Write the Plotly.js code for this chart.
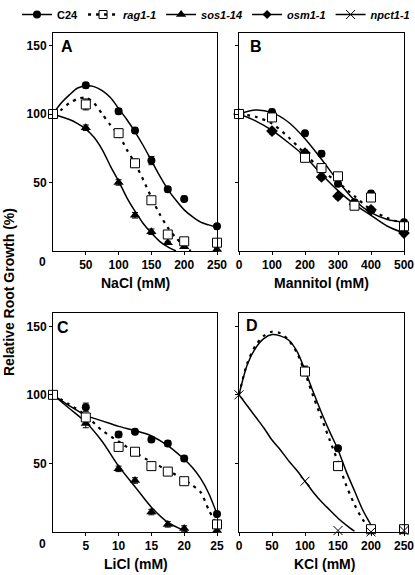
<!DOCTYPE html>
<html>
<head>
<meta charset="utf-8">
<script src="https://cdn.plot.ly/plotly-3.0.1.min.js"></script>
<style>html,body{margin:0;padding:0;background:#fff;}#chart{width:415px;height:575px;}</style>
</head>
<body>
<div id="chart"></div>
<script>
// ---------- Panel A: NaCl ----------
const naclX = [0, 50, 100, 125, 150, 175, 200, 250];
const naclC24 = [100, 121, 102, 88, 66, 45, 38, 18];
const naclC24Err = [2, 2, 2, 2, 3, 2, 2, 2];
const naclRag = [100, 107, 86, 64, 37, 12, 7, 6];
const naclRagErr = [2, 4, 3, 3, 2, 2, 1, 1];
const naclSos = [100, 90, 50, 26, 14, 6, 3, 1];
const naclSosErr = [2, 2, 2, 2, 2, 1, 1, 1];
const naclFitX = [0, 12.5, 25, 37.5, 50, 62.5, 75, 87.5, 100, 112.5, 125, 137.5, 150, 162.5, 175, 187.5, 200, 212.5, 225, 237.5, 250];
const naclC24Fit = [100, 108, 114, 119, 120.5, 120, 117, 112, 104, 96, 87, 77, 66, 55, 45, 37, 30, 25, 21, 19, 17];
const naclRagFitX = [0, 12.5, 25, 37.5, 50, 62.5, 75, 87.5, 100, 112.5, 125, 137.5, 150, 162.5, 175, 187.5, 200, 210];
const naclRagFit = [100, 103, 108, 111, 112, 108, 100, 92, 85, 74, 64, 52, 39, 27, 17, 9.5, 3.5, 0];
const naclSosFitX = [0, 12.5, 25, 37.5, 50, 62.5, 75, 87.5, 100, 112.5, 125, 137.5, 150, 162.5, 175, 187.5];
const naclSosFit = [100, 98, 96, 93, 89, 83, 74, 62, 51, 39, 29, 20, 13, 7, 3, 0];

// ---------- Panel B: Mannitol ----------
const mannX = [0, 100, 200, 250, 300, 350, 400, 500];
const mannC24 = [100, 101.5, 86, 71, 49, 35.5, 42, 21];
const mannRag = [100, 97.5, 68, 60.5, 54.5, 33, 39, 18];
const mannOsm = [100, 87.5, 71.5, 54, 40, 34, 30, 13];
const mannErr = [1, 2, 2, 2, 2, 2, 2, 2];
const mannFitX = [0, 50, 100, 150, 200, 250, 300, 350, 400, 450, 500];
const mannC24Fit = [100, 103, 101, 94, 82, 67, 51, 37, 28, 23, 21];
const mannRagFit = [100, 98, 93, 83, 71, 59, 50, 40, 30, 24, 20];
const mannOsmFit = [100, 95, 88, 79, 69, 56, 44, 34, 26, 18, 13];

// ---------- Panel C: LiCl ----------
const liX = [0, 5, 10, 12.5, 15, 17.5, 20, 25];
const liC24 = [100, 91, 71, 73, 67.5, 64.5, 53.5, 13];
const liRag = [100, 83.5, 62, 58.5, 48, 44, 37, 5.5];
const liSos = [100, 79, 46, 37.5, 14.5, 5.5, 2.5, 1];
const liErr = [1, 3, 2, 2, 2, 2, 2, 2];
const liC24FitX = [0, 2.5, 5, 7.5, 10, 12.5, 15, 17.5, 20, 21.25, 22.5, 23.75, 25];
const liC24Fit = [100, 92, 85, 81, 77, 74, 70, 63, 53, 47, 39, 28, 13];
const liRagFitX = [0, 2.5, 5, 7.5, 10, 12.5, 15, 17.5, 20, 21.25, 22.5, 23.75, 25];
const liRagFit = [100, 93, 85, 74, 66, 58, 51, 45, 38, 34, 29, 16, 5];
const liSosFitX = [0, 2.5, 5, 7.5, 10, 12.5, 15, 17.5, 20, 20.5];
const liSosFit = [100, 90, 80, 66, 48, 33, 18, 7, 1, 0];

// ---------- Panel D: KCl ----------
const kclX = [100, 150, 200, 250];
const kclC24 = [118, 61, 2.5, 2.5];
const kclRag = [117, 48, 2, 2];
const kclErr = [3, 2, 1, 1];
const kclNpctX = [0, 100, 150, 200, 250];
const kclNpct = [100, 37, 1, 0, 1];
const kclFitX = [0, 12.5, 25, 37.5, 50, 62.5, 75, 87.5, 100, 112.5, 125, 137.5, 150, 162.5, 175, 187.5, 200, 205];
const kclC24Fit = [100, 122, 134, 141, 144, 143, 140, 132, 118, 102, 87, 73, 60, 44, 30, 16, 5, 0];
const kclRagFit = [100, 123, 136, 143, 146, 145, 140, 131, 116, 99, 83, 67, 51, 34, 20, 9, 2, 0];
const kclNpctFitX = [0, 12.5, 25, 37.5, 50, 62.5, 75, 87.5, 100, 112.5, 125, 137.5, 150, 162.5, 175];
const kclNpctFit = [100, 92, 84, 76, 67, 60, 52, 45, 37, 29, 22, 16, 10, 5, 0.5];

// ---------- Legend / tick labels ----------
const seriesNames = ['C24', '<i>rag1-1</i>', '<i>sos1-14</i>', '<i>osm1-1</i>', '<i>npct1-1</i>'];
const naclTicks = [50, 100, 150, 200, 250];
const mannTicks = [0, 100, 200, 300, 400, 500];
const liTicks = [5, 10, 15, 20, 25];
const kclTicks = [0, 50, 100, 150, 200, 250];
const yTicks = [50, 100, 150];

const FONT = 'Arial, "Liberation Sans", sans-serif';
const solid = {color: '#000', width: 1.5, shape: 'spline', smoothing: 0.8};
const dashed = {color: '#000', width: 2.2, dash: '3px,5px', shape: 'spline', smoothing: 0.8};
const mk = {
  c24: {symbol: 'circle', size: 8, color: '#000'},
  rag: {symbol: 'square-open', size: 9, color: '#000', line: {width: 1}},
  sos: {symbol: 'triangle-up', size: 9, color: '#000'},
  osm: {symbol: 'diamond', size: 9, color: '#000'},
  npct: {symbol: 'x-thin-open', size: 9, color: '#000', line: {width: 1, color: '#000'}}
};
const ragFillMk = {symbol: 'square', size: 9, color: '#fff', line: {width: 1, color: '#000'}};

function fit(x, y, xa, ya, line) {
  return {x: x, y: y, xaxis: xa, yaxis: ya, mode: 'lines', line: line, showlegend: false, hoverinfo: 'skip'};
}
function pts(x, y, err, xa, ya, marker) {
  const t = {x: x, y: y, xaxis: xa, yaxis: ya, mode: 'markers', marker: marker, showlegend: false, cliponaxis: false};
  if (err) t.error_y = {type: 'data', array: err, visible: true, color: '#000', thickness: 1, width: 3};
  return t;
}

const traces = [];
// A
traces.push(fit(naclFitX, naclC24Fit, 'x', 'y', solid));
traces.push(fit(naclRagFitX, naclRagFit, 'x', 'y', dashed));
traces.push(fit(naclSosFitX, naclSosFit, 'x', 'y', solid));
traces.push(pts(naclX, naclC24, naclC24Err, 'x', 'y', mk.c24));
traces.push(pts(naclX, naclSos, naclSosErr, 'x', 'y', mk.sos));
traces.push(pts(naclX, naclRag, naclRagErr, 'x', 'y', ragFillMk));
// B
traces.push(fit(mannFitX, mannC24Fit, 'x2', 'y2', solid));
traces.push(fit(mannFitX, mannRagFit, 'x2', 'y2', dashed));
traces.push(fit(mannFitX, mannOsmFit, 'x2', 'y2', solid));
traces.push(pts(mannX, mannOsm, mannErr, 'x2', 'y2', mk.osm));
traces.push(pts(mannX, mannC24, mannErr, 'x2', 'y2', mk.c24));
traces.push(pts(mannX, mannRag, mannErr, 'x2', 'y2', ragFillMk));
// C
traces.push(fit(liC24FitX, liC24Fit, 'x3', 'y3', solid));
traces.push(fit(liRagFitX, liRagFit, 'x3', 'y3', dashed));
traces.push(fit(liSosFitX, liSosFit, 'x3', 'y3', solid));
traces.push(pts(liX, liC24, liErr, 'x3', 'y3', mk.c24));
traces.push(pts(liX, liSos, liErr, 'x3', 'y3', mk.sos));
traces.push(pts(liX, liRag, liErr, 'x3', 'y3', ragFillMk));
// D
traces.push(fit(kclFitX, kclC24Fit, 'x4', 'y4', solid));
traces.push(fit(kclFitX, kclRagFit, 'x4', 'y4', dashed));
traces.push(fit(kclNpctFitX, kclNpctFit, 'x4', 'y4', solid));
traces.push(pts(kclX, kclC24, kclErr, 'x4', 'y4', mk.c24));
traces.push(pts(kclX, kclRag, kclErr, 'x4', 'y4', ragFillMk));
traces.push(pts(kclNpctX, kclNpct, null, 'x4', 'y4', mk.npct));

// legend entries
const legLines = [
  {color: '#000', width: 1.5},
  {color: '#000', width: 2.5, dash: '3px,5px'},
  {color: '#000', width: 1.5},
  {color: '#000', width: 1.5},
  {color: '#000', width: 1.5}
];
const legMarkers = [mk.c24, {symbol: 'square-open', size: 8, color: '#000', line: {width: 1}}, mk.sos, {symbol: 'diamond', size: 7, color: '#000'}, mk.npct];
seriesNames.forEach(function (n, i) {
  traces.push({x: [null], y: [null], xaxis: 'x', yaxis: 'y', mode: 'lines+markers', name: n,
    line: legLines[i], marker: legMarkers[i], showlegend: true});
});

const W = 415, H = 575;
function px(v) { return v / W; }
function py(v) { return 1 - v / H; }
const tickFont = {family: FONT, size: 12, color: '#000', weight: 'bold'};
function axisBase(extra) {
  return Object.assign({
    showline: true, linecolor: '#000', linewidth: 1, mirror: true,
    showgrid: false, zeroline: false, ticks: 'outside', ticklen: 3, tickcolor: '#000',
    tickfont: tickFont, tickmode: 'array', fixedrange: true
  }, extra);
}
const topDom = [py(244), py(21)];
const botDom = [py(531), py(307)];
const leftDom = [px(53), px(217)];
const rightDom = [px(239), px(404)];

const layout = {
  width: W, height: H,
  margin: {l: 0, r: 0, t: 0, b: 0},
  paper_bgcolor: '#fff', plot_bgcolor: '#fff',
  font: {family: FONT, color: '#000'},
  showlegend: true,
  legend: {orientation: 'h', x: px(236), xanchor: 'center', y: 1.022, yanchor: 'top',
    font: {family: FONT, size: 11, color: '#000', weight: 'bold'}, itemwidth: 30,
    bgcolor: 'rgba(0,0,0,0)', traceorder: 'normal'},
  xaxis: axisBase({domain: leftDom, anchor: 'y', range: [0, 250], tickvals: naclTicks}),
  yaxis: axisBase({domain: topDom, anchor: 'x', range: [0, 159.5], tickvals: yTicks}),
  xaxis2: axisBase({domain: rightDom, anchor: 'y2', range: [0, 500], tickvals: mannTicks}),
  yaxis2: axisBase({domain: topDom, anchor: 'x2', range: [0, 159.5], tickvals: yTicks, showticklabels: false}),
  xaxis3: axisBase({domain: leftDom, anchor: 'y3', range: [0, 25], tickvals: liTicks}),
  yaxis3: axisBase({domain: botDom, anchor: 'x3', range: [0, 160], tickvals: yTicks}),
  xaxis4: axisBase({domain: rightDom, anchor: 'y4', range: [0, 250], tickvals: kclTicks}),
  yaxis4: axisBase({domain: botDom, anchor: 'x4', range: [0, 160], tickvals: yTicks, showticklabels: false}),
  annotations: [
    {text: 'A', x: px(67), y: py(35)},
    {text: 'B', x: px(256), y: py(35)},
    {text: 'C', x: px(63), y: py(322)},
    {text: 'D', x: px(252), y: py(320)}
  ].map(function (a) {
    return Object.assign({xref: 'paper', yref: 'paper', showarrow: false, xanchor: 'center', yanchor: 'middle',
      font: {family: FONT, size: 16, color: '#000', weight: 'bold'}}, a);
  }).concat([
    {text: '0', x: px(42), y: py(255)},
    {text: '0', x: px(42), y: py(543)}
  ].map(function (a) {
    return Object.assign({xref: 'paper', yref: 'paper', showarrow: false, xanchor: 'center', yanchor: 'middle',
      font: tickFont}, a);
  })).concat([
    {text: 'NaCl (mM)', x: px(135), y: py(277)},
    {text: 'Mannitol (mM)', x: px(321), y: py(277)},
    {text: 'LiCl (mM)', x: px(136), y: py(564)},
    {text: 'KCl (mM)', x: px(324), y: py(564)},
    {text: 'Relative Root Growth (%)', x: px(9), y: py(286), textangle: -90}
  ].map(function (a) {
    return Object.assign({xref: 'paper', yref: 'paper', showarrow: false, xanchor: 'center', yanchor: 'middle',
      font: {family: FONT, size: 14, color: '#000', weight: 'bold'}}, a);
  }))
};

Plotly.newPlot('chart', traces, layout, {displayModeBar: false, staticPlot: true});
</script>
</body>
</html>
